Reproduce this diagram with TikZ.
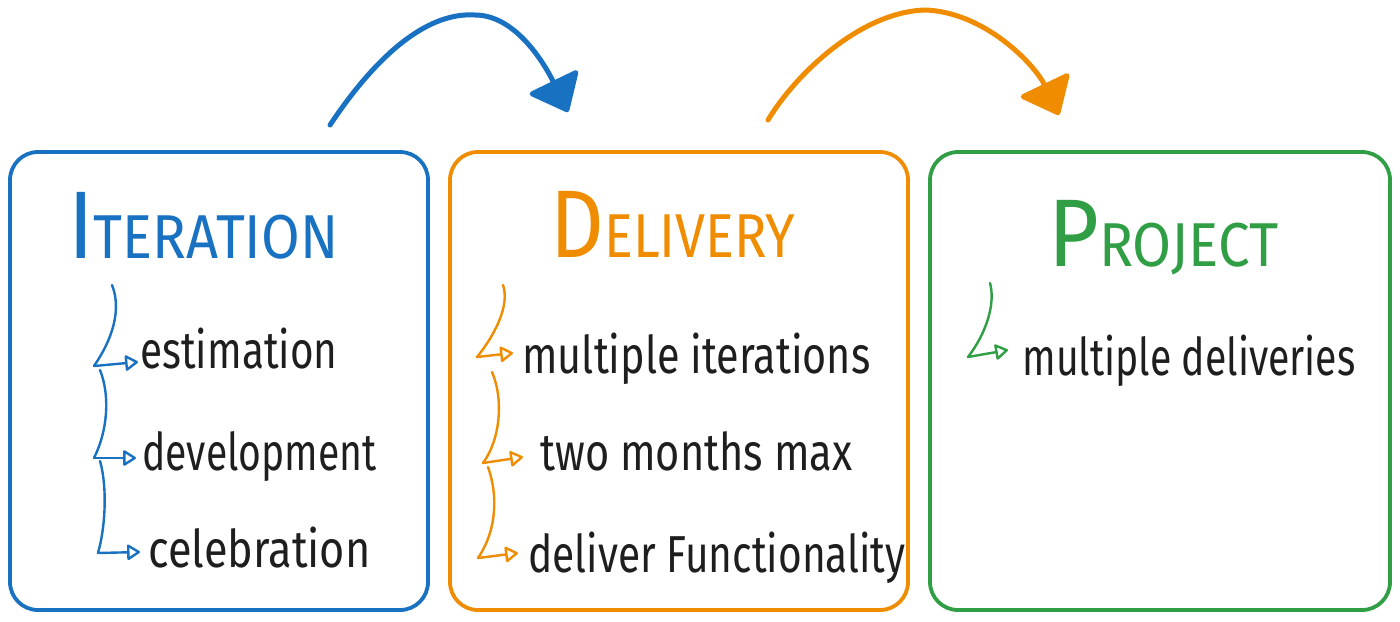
\documentclass[tikz,border=0pt]{standalone}
\usepackage{fontspec}
\usepackage{graphicx}
\setmainfont{Fira Sans}
\usetikzlibrary{arrows.meta}
\definecolor{exblue}{HTML}{1971C2}
\definecolor{exorange}{HTML}{F08C00}
\definecolor{exgreen}{HTML}{2F9E44}
\definecolor{exink}{HTML}{1E1E1E}
\newcommand\fitt[2]{\resizebox{#1}{\height}{#2}}
\newcommand\mytitlecaps[2]{{\fontsize{48}{48}\selectfont #1}{\fontsize{31}{31}\selectfont #2}}
\tikzset{
  box/.style={draw=#1, line width=1.9pt, rounded corners=14pt, minimum width=209pt, minimum height=229pt, inner sep=0pt},
  title/.style={text=#1, anchor=base west, inner sep=0pt},
  item/.style={text=exink, anchor=base west, inner sep=0pt, font=\fontsize{26}{26}\selectfont},
  bline/.style={draw=#1, line width=1.2pt, line cap=round},
  btip/.style={draw=#1, line width=1.2pt, line cap=round, -{Triangle[open, length=7pt, width=8.5pt, round]}},
  bigarrow/.style={draw=#1, line width=2.5pt, line cap=round, -{Triangle[length=18pt, width=29pt, round]}}
}
\begin{document}
\begin{tikzpicture}[x=0.5pt, y=-0.5pt]
\useasboundingbox[fill=white] (0,0) rectangle (1400,621);

% boxes
\node[box=exblue, minimum width=209pt] (iter) at (219,381) {};
\node[box=exorange, minimum width=229pt] (deliv) at (679,381) {};
\node[box=exgreen, minimum width=230pt] (proj) at (1160,381) {};

% titles
\node[title=exblue] (titer) at (68,258) {\fitt{135pt}{\mytitlecaps{I}{TERATION}}};
\node[title=exorange] (tdeliv) at (550,257) {\fitt{122.5pt}{\mytitlecaps{D}{ELIVERY}}};
\node[title=exgreen] (tproj) at (1048,266) {\fitt{115pt}{\mytitlecaps{P}{ROJECT}}};

% items
\node[item] (i1) at (140,368) {\fitt{98.5pt}{estimation}};
\node[item] (i2) at (142,470) {\fitt{117pt}{development}};
\node[item] (i3) at (148,567) {\fitt{111pt}{celebration}};
\node[item] (d1) at (522,373) {\fitt{174pt}{multiple iterations}};
\node[item] (d2) at (540,470) {\fitt{156pt}{two months max}};
\node[item] (d3) at (528,572) {\fitt{188.5pt}{deliver Functionality}};
\node[item] (p1) at (1022,375) {\fitt{166.5pt}{multiple deliveries}};

% blue bracket
\coordinate (bt) at (112,285);
\coordinate (bc1) at (94,366);
\coordinate (be1) at (138,362);
\coordinate (bs2) at (100,370);
\coordinate (bc2) at (94,458);
\coordinate (be2) at (136,458);
\coordinate (bs3) at (100,461);
\coordinate (bc3) at (98,553);
\coordinate (be3) at (140,552);
\draw[bline=exblue] (bt) .. controls (122,310) and (112,340) .. (bc1);
\draw[btip=exblue] (bc1) -- (be1);
\draw[bline=exblue] (bs2) .. controls (110,395) and (108,430) .. (bc2);
\draw[btip=exblue] (bc2) -- (be2);
\draw[bline=exblue] (bs3) .. controls (107,485) and (106,525) .. (bc3);
\draw[btip=exblue] (bc3) -- (be3);

% orange bracket
\coordinate (ot) at (503,285);
\coordinate (oc1) at (477,357);
\coordinate (oe1) at (513,353);
\coordinate (os2) at (492,372);
\coordinate (oc2) at (483,463);
\coordinate (oe2) at (523,457);
\coordinate (os3) at (488,467);
\coordinate (oc3) at (478,558);
\coordinate (oe3) at (518,553);
\draw[bline=exorange] (ot) .. controls (510,305) and (495,335) .. (oc1);
\draw[btip=exorange] (oc1) -- (oe1);
\draw[bline=exorange] (os2) .. controls (504,400) and (500,440) .. (oc2);
\draw[btip=exorange] (oc2) -- (oe2);
\draw[bline=exorange] (os3) .. controls (498,495) and (497,530) .. (oc3);
\draw[btip=exorange] (oc3) -- (oe3);

% green bracket
\coordinate (gt) at (990,283);
\coordinate (gc) at (968,357);
\coordinate (ge) at (1008,350);
\draw[bline=exgreen] (gt) .. controls (996,305) and (985,335) .. (gc);
\draw[btip=exgreen] (gc) -- (ge);

% big arrows
\coordinate (a1s) at (330,125);
\coordinate (a1m) at (475,15);
\coordinate (a1e) at (568,112);
\draw[bigarrow=exblue] (a1s) .. controls (380,50) and (430,12) .. (a1m) .. controls (520,15) and (550,75) .. (a1e);
\coordinate (a2s) at (768,120);
\coordinate (a2m) at (925,10);
\coordinate (a2e) at (1059,115);
\draw[bigarrow=exorange] (a2s) .. controls (795,75) and (860,12) .. (a2m) .. controls (985,12) and (1035,65) .. (a2e);
\end{tikzpicture}
\end{document}
